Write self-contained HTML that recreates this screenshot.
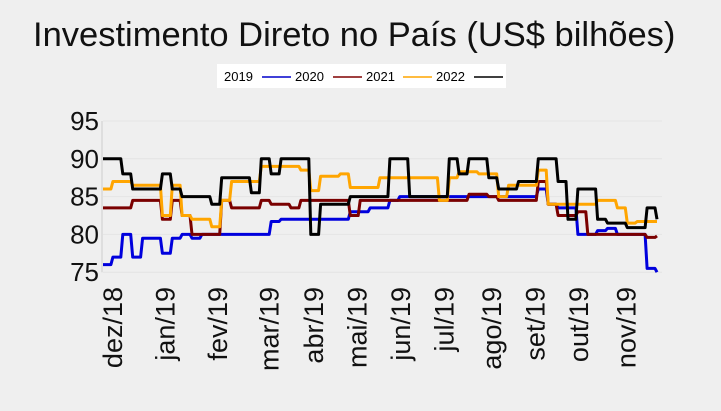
<!DOCTYPE html>
<html><head><meta charset="utf-8"><style>
body{margin:0;background:#efefef;width:721px;height:406px;overflow:hidden;font-family:"Liberation Sans",sans-serif}
</style></head><body>
<svg width="721" height="406" xmlns="http://www.w3.org/2000/svg">
<rect width="721" height="406" fill="#efefef"/>
<text x="33" y="46" font-size="34.5" fill="#111" font-family="Liberation Sans, sans-serif">Investimento Direto no País (US$ bilhões)</text>
<g>
<rect x="217" y="64" width="289" height="24" fill="#fff"/>
<text x="224" y="81" font-size="13">2019</text>
<line x1="262" y1="77" x2="291" y2="77" stroke="#0000cc" stroke-width="1.5"/>
<text x="295" y="81" font-size="13">2020</text>
<line x1="333" y1="77" x2="362" y2="77" stroke="#800000" stroke-width="1.5"/>
<text x="366" y="81" font-size="13">2021</text>
<line x1="403" y1="77" x2="432" y2="77" stroke="#ffa500" stroke-width="1.5"/>
<text x="436" y="81" font-size="13">2022</text>
<line x1="474" y1="77" x2="503" y2="77" stroke="#000" stroke-width="1.5"/>
</g>
<g id="plot"></g>
</svg>
<script>
const yTicks=[95,90,85,80,75];
const monthLabels=["dez/18","jan/19","fev/19","mar/19","abr/19","mai/19","jun/19","jul/19","ago/19","set/19","out/19","nov/19"];
const monthPos=[0.2,5.5,10.8,16,20.5,24.9,29.3,33.7,38.5,42.9,47.3,52.1];
const s2019=[76,77,80,77,79.5,79.5,77.5,79.5,80,79.5,80,80,80,80,80,80,80,81.7,82,82,82,82,82,82,82,83,83,83.5,83.5,84.5,85,85,85,85,85,85,85,85,85,85,85,85,85,85,86,84,83.5,83.5,80,80,80.5,80.8,80,80,80,75.5,75];
const s2020=[83.5,83.5,83.5,84.5,84.5,84.5,82,84.5,82.5,80,80,80,84.5,83.5,83.5,83.5,84.5,84,84,83.5,84.5,84.5,84.5,84.5,84.5,82.5,84.5,84.5,84.5,84.5,84.5,84.5,84.5,84.5,84.5,84.5,84.5,85.3,85.3,85,84.5,84.5,84.5,84.5,87,84,82.5,82.5,83,80,80,80,80,80,80,79.6,79.8];
const s2021=[86,87,87,86.5,86.5,86.5,82.5,86.5,82.5,82,82,81,84.5,87,87,87,89,89,89,89,88.5,85.8,87.7,87.7,88,86.2,86.2,86.2,87.5,87.5,87.5,87.5,87.5,87.5,84.5,87.5,88.3,88.3,88,88,85,86.5,86.5,86.5,88.5,84,84,84,84,84,84.5,84.5,83.5,81.5,81.7,81.7,81.7];
const s2022=[90,90,88,86,86,86,88,86,85,85,85,84,87.5,87.5,87.5,85.5,90,88,90,90,90,80,84,84,84,85,85,85,85,90,90,85,85,85,85,90,88,90,90,87.5,86,86,87,87,90,90,87,82,86,86,82,81.5,81.5,80.9,80.9,83.5,82];
const NS="http://www.w3.org/2000/svg";
const plot=document.getElementById('plot');
const x0=103,x1=657,n=s2019.length;
function xs(i){return x0+i*(x1-x0)/(n-1);}
function ys(v){return 121+(95-v)*7.56;}
function mk(t,a){const e=document.createElementNS(NS,t);for(const k in a)e.setAttribute(k,a[k]);plot.appendChild(e);return e;}
yTicks.forEach(v=>{
  const g=mk('line',{x1:x0,x2:x1+5,y1:ys(v),y2:ys(v),stroke:'#e4e4e4','stroke-width':1});
  
  
  const t=mk('text',{x:99,y:ys(v)+9,'font-size':26,'text-anchor':'end',fill:'#111'});
  t.textContent=v;
  
  
});
const ax=mk('line',{x1:102,x2:102,y1:ys(95),y2:ys(75),stroke:'#ccc','stroke-width':1});


monthLabels.forEach((m,k)=>{
  const x=xs(monthPos[k])+17;
  const t=mk('text',{x:0,y:0,'font-size':27,'text-anchor':'end',fill:'#111',transform:'translate('+x+',287) rotate(-90)'});
  t.textContent=m;
  
  
});
[[s2019,'#0000dd','2019'],[s2020,'#7a0000','2020'],[s2021,'#ffa500','2021'],[s2022,'#000','2022']].forEach(([s,c,nm])=>{
  let d='M'+xs(0).toFixed(1)+','+ys(s[0]).toFixed(1);
  for(let i=1;i<s.length;i++){
    const xm=xs(i)-2;
    d+=' L'+xm.toFixed(1)+','+ys(s[i-1]).toFixed(1)+' L'+xs(i).toFixed(1)+','+ys(s[i]).toFixed(1);
  }
  const p=mk('path',{d:d,fill:'none',stroke:c,'stroke-width':3,'stroke-linejoin':'round'});
  
  
});
</script>
</body></html>
